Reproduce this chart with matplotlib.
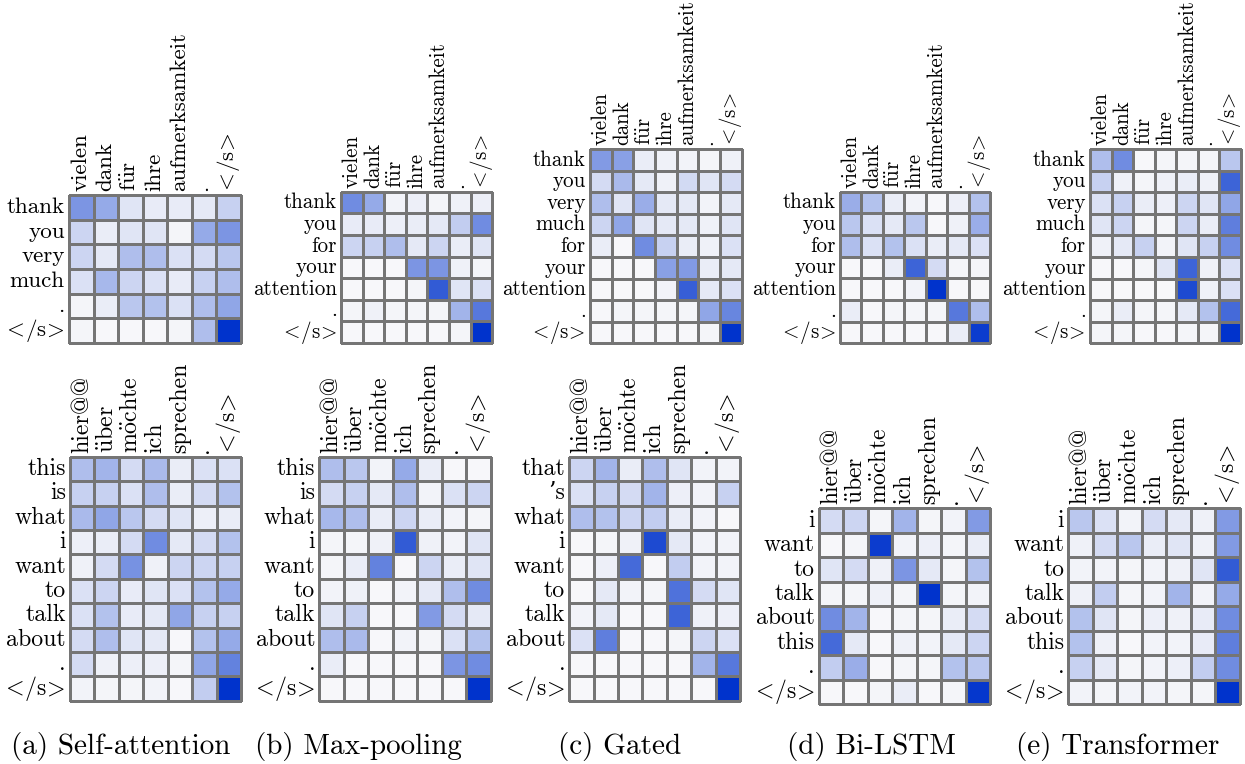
import numpy as np
import matplotlib
matplotlib.use("Agg")
import matplotlib.pyplot as plt
from matplotlib.colors import LinearSegmentedColormap

plt.rcParams["font.family"] = ["cmr10", "DejaVu Serif"]
plt.rcParams["mathtext.fontset"] = "cm"
plt.rcParams["axes.formatter.use_mathtext"] = True

W, H = 1245, 764

# source / target tokens
de_thanks = ["vielen", "dank", "für", "ihre", "aufmerksamkeit", ".", "</s>"]
de_talk = ["hier@@", "über", "möchte", "ich", "sprechen", ".", "</s>"]
en_thanks_4 = ["thank", "you", "very", "much", ".", "</s>"]
en_thanks_5 = ["thank", "you", "for", "your", "attention", ".", "</s>"]
en_thanks_7 = ["thank", "you", "very", "much", "for", "your", "attention", ".", "</s>"]
en_this = ["this", "is", "what", "i", "want", "to", "talk", "about", ".", "</s>"]
en_that = ["that", "’s", "what", "i", "want", "to", "talk", "about", ".", "</s>"]
en_i = ["i", "want", "to", "talk", "about", "this", ".", "</s>"]

captions = ["(a) Self-attention", "(b) Max-pooling", "(c) Gated", "(d) Bi-LSTM", "(e) Transformer"]

# attention weights (rows = target words, cols = source words)
att_self_1 = [
    [0.50, 0.40, 0.10, 0.07, 0.07, 0.08, 0.20],
    [0.18, 0.06, 0.10, 0.10, 0.02, 0.40, 0.50],
    [0.18, 0.08, 0.30, 0.30, 0.12, 0.15, 0.25],
    [0.12, 0.33, 0.18, 0.12, 0.07, 0.20, 0.30],
    [0.02, 0.06, 0.25, 0.28, 0.12, 0.30, 0.42],
    [0.02, 0.01, 0.01, 0.01, 0.02, 0.30, 1.00],
]
att_max_1 = [
    [0.55, 0.40, 0.03, 0.05, 0.02, 0.04, 0.05],
    [0.07, 0.07, 0.05, 0.06, 0.08, 0.22, 0.55],
    [0.18, 0.20, 0.30, 0.08, 0.18, 0.06, 0.10],
    [0.01, 0.01, 0.01, 0.50, 0.50, 0.04, 0.02],
    [0.01, 0.01, 0.01, 0.02, 0.80, 0.10, 0.12],
    [0.02, 0.04, 0.02, 0.02, 0.02, 0.35, 0.65],
    [0.01, 0.01, 0.01, 0.01, 0.01, 0.02, 1.00],
]
att_gated_1 = [
    [0.48, 0.45, 0.06, 0.04, 0.03, 0.02, 0.04],
    [0.15, 0.32, 0.08, 0.04, 0.16, 0.10, 0.15],
    [0.30, 0.10, 0.38, 0.08, 0.08, 0.03, 0.08],
    [0.18, 0.42, 0.10, 0.08, 0.08, 0.04, 0.10],
    [0.06, 0.01, 0.55, 0.20, 0.06, 0.04, 0.12],
    [0.01, 0.01, 0.01, 0.45, 0.48, 0.06, 0.08],
    [0.01, 0.01, 0.01, 0.03, 0.78, 0.08, 0.12],
    [0.01, 0.02, 0.02, 0.02, 0.02, 0.42, 0.58],
    [0.01, 0.01, 0.01, 0.01, 0.01, 0.02, 1.00],
]
att_lstm_1 = [
    [0.38, 0.28, 0.06, 0.03, 0.01, 0.05, 0.28],
    [0.25, 0.12, 0.08, 0.25, 0.01, 0.04, 0.38],
    [0.30, 0.12, 0.28, 0.12, 0.06, 0.08, 0.12],
    [0.01, 0.01, 0.06, 0.75, 0.15, 0.02, 0.02],
    [0.01, 0.01, 0.01, 0.03, 1.00, 0.01, 0.01],
    [0.06, 0.01, 0.02, 0.02, 0.02, 0.65, 0.30],
    [0.01, 0.01, 0.01, 0.01, 0.01, 0.06, 0.95],
]
att_trans_1 = [
    [0.30, 0.55, 0.01, 0.02, 0.02, 0.02, 0.25],
    [0.20, 0.04, 0.02, 0.04, 0.06, 0.04, 0.75],
    [0.12, 0.20, 0.06, 0.05, 0.18, 0.10, 0.42],
    [0.10, 0.18, 0.02, 0.02, 0.18, 0.06, 0.62],
    [0.04, 0.08, 0.20, 0.03, 0.10, 0.20, 0.55],
    [0.01, 0.01, 0.02, 0.10, 0.75, 0.04, 0.12],
    [0.01, 0.01, 0.01, 0.01, 0.88, 0.04, 0.12],
    [0.02, 0.06, 0.02, 0.02, 0.08, 0.28, 0.72],
    [0.02, 0.02, 0.01, 0.01, 0.02, 0.02, 1.00],
]
att_self_2 = [
    [0.30, 0.35, 0.15, 0.32, 0.06, 0.12, 0.12],
    [0.20, 0.20, 0.12, 0.30, 0.06, 0.15, 0.28],
    [0.32, 0.42, 0.25, 0.15, 0.10, 0.05, 0.06],
    [0.05, 0.06, 0.15, 0.55, 0.08, 0.15, 0.28],
    [0.04, 0.15, 0.52, 0.04, 0.18, 0.18, 0.20],
    [0.12, 0.18, 0.07, 0.10, 0.12, 0.28, 0.40],
    [0.12, 0.28, 0.07, 0.08, 0.42, 0.20, 0.20],
    [0.15, 0.30, 0.10, 0.08, 0.01, 0.28, 0.40],
    [0.15, 0.04, 0.05, 0.05, 0.02, 0.42, 0.60],
    [0.03, 0.02, 0.02, 0.03, 0.01, 0.22, 1.00],
]
att_max_2 = [
    [0.30, 0.25, 0.03, 0.40, 0.06, 0.01, 0.01],
    [0.15, 0.20, 0.08, 0.30, 0.03, 0.12, 0.18],
    [0.33, 0.30, 0.06, 0.18, 0.06, 0.03, 0.02],
    [0.02, 0.02, 0.04, 0.80, 0.04, 0.03, 0.10],
    [0.02, 0.06, 0.60, 0.01, 0.18, 0.06, 0.10],
    [0.03, 0.04, 0.01, 0.03, 0.08, 0.30, 0.55],
    [0.10, 0.20, 0.01, 0.01, 0.48, 0.15, 0.08],
    [0.30, 0.32, 0.01, 0.03, 0.02, 0.12, 0.28],
    [0.06, 0.01, 0.01, 0.01, 0.01, 0.50, 0.55],
    [0.01, 0.01, 0.01, 0.01, 0.01, 0.01, 1.00],
]
att_gated_2 = [
    [0.18, 0.35, 0.06, 0.30, 0.10, 0.03, 0.03],
    [0.12, 0.20, 0.15, 0.35, 0.05, 0.03, 0.20],
    [0.30, 0.28, 0.18, 0.22, 0.06, 0.03, 0.01],
    [0.01, 0.02, 0.04, 0.88, 0.08, 0.03, 0.03],
    [0.01, 0.05, 0.72, 0.01, 0.22, 0.03, 0.03],
    [0.01, 0.08, 0.03, 0.02, 0.68, 0.15, 0.10],
    [0.03, 0.08, 0.01, 0.01, 0.75, 0.04, 0.05],
    [0.12, 0.62, 0.01, 0.01, 0.02, 0.18, 0.12],
    [0.01, 0.01, 0.01, 0.01, 0.01, 0.35, 0.65],
    [0.01, 0.01, 0.01, 0.01, 0.01, 0.01, 1.00],
]
att_lstm_2 = [
    [0.15, 0.18, 0.02, 0.35, 0.02, 0.03, 0.48],
    [0.01, 0.02, 0.95, 0.03, 0.05, 0.02, 0.06],
    [0.10, 0.15, 0.04, 0.50, 0.08, 0.02, 0.28],
    [0.02, 0.02, 0.04, 0.02, 1.00, 0.02, 0.03],
    [0.55, 0.35, 0.01, 0.02, 0.02, 0.06, 0.15],
    [0.72, 0.08, 0.01, 0.04, 0.03, 0.08, 0.18],
    [0.22, 0.38, 0.01, 0.02, 0.02, 0.28, 0.25],
    [0.01, 0.01, 0.02, 0.06, 0.01, 0.02, 0.98],
]
att_trans_2 = [
    [0.25, 0.12, 0.03, 0.15, 0.08, 0.04, 0.48],
    [0.04, 0.15, 0.25, 0.06, 0.10, 0.04, 0.48],
    [0.03, 0.03, 0.02, 0.03, 0.04, 0.10, 0.80],
    [0.04, 0.22, 0.02, 0.03, 0.35, 0.03, 0.40],
    [0.28, 0.10, 0.02, 0.05, 0.04, 0.07, 0.55],
    [0.28, 0.04, 0.01, 0.03, 0.03, 0.07, 0.62],
    [0.20, 0.08, 0.02, 0.03, 0.05, 0.22, 0.55],
    [0.03, 0.02, 0.03, 0.03, 0.02, 0.02, 1.00],
]

cmap = LinearSegmentedColormap.from_list("att", [(0.975, 0.975, 0.98), (0.0, 0.2, 0.8)])


def tex(s):
    # cmr10 has no umlauts and maps < > to Spanish punctuation, so go through mathtext;
    # \! cancels the relation spacing mathtext puts around < and >
    s = s.replace("ü", r"$\ddot{\rm u}$").replace("ö", r"$\ddot{\rm o}$")
    return s.replace("<", r"$\!<\!$").replace(">", r"$\!>\!$")


def box(x0, y0, x1, y1):
    return [x0 / W, 1 - y1 / H, (x1 - x0) / W, (y1 - y0) / H]


def heatmap(fig, rect, weights, rows, cols, fs):
    ax = fig.add_axes(box(*rect))
    data = np.array(weights)
    mesh = ax.pcolormesh(data, cmap=cmap, vmin=0, vmax=1,
                         edgecolors="#757575", linewidth=0.9)
    mesh.set_clip_on(False)
    ax.set_xlim(0, data.shape[1])
    ax.set_ylim(data.shape[0], 0)
    ax.set_axis_off()
    for j, c in enumerate(cols):
        # a lone dot sits on the baseline, nudge it back towards the column centre
        dx = -fs * 0.12 if c == "." else 0
        ax.annotate(tex(c), (j + 0.5, 0), xytext=(dx, 3), textcoords="offset points",
                    rotation=90, ha="center", va="bottom", fontsize=fs)
    for i, r in enumerate(rows):
        ax.annotate(tex(r), (0, i + 0.5), xytext=(-3, 0), textcoords="offset points",
                    ha="right", va="center", fontsize=fs)
    return ax


fig = plt.figure(figsize=(W / 100, H / 100), dpi=100)

panels = [
    ((69, 195, 241, 343), att_self_1, en_thanks_4, de_thanks, 16.6),
    ((341, 191.7, 492.3, 343), att_max_1, en_thanks_5, de_thanks, 15.2),
    ((590, 149, 741.7, 343.3), att_gated_1, en_thanks_7, de_thanks, 15.1),
    ((840, 191.7, 990, 343.3), att_lstm_1, en_thanks_5, de_thanks, 15.2),
    ((1090, 149, 1240.7, 343.3), att_trans_1, en_thanks_7, de_thanks, 15.1),
    ((70, 456.7, 241, 700.7), att_self_2, en_this, de_talk, 17.2),
    ((319.3, 456.7, 490.7, 700.7), att_max_2, en_this, de_talk, 17.2),
    ((569.3, 456.7, 740, 700.7), att_gated_2, en_that, de_talk, 17.2),
    ((819, 508.3, 990, 704), att_lstm_2, en_i, de_talk, 17.0),
    ((1068.3, 508.3, 1240, 704), att_trans_2, en_i, de_talk, 17.0),
]
for rect, w, rows, cols, fs in panels:
    heatmap(fig, rect, w, rows, cols, fs)

caption_x = [121, 358, 620, 871, 1118]
for cx, text in zip(caption_x, captions):
    fig.text(cx / W, 1 - 754 / H, text, ha="center", va="baseline", fontsize=21)

fig.savefig("out.png", dpi=100)
